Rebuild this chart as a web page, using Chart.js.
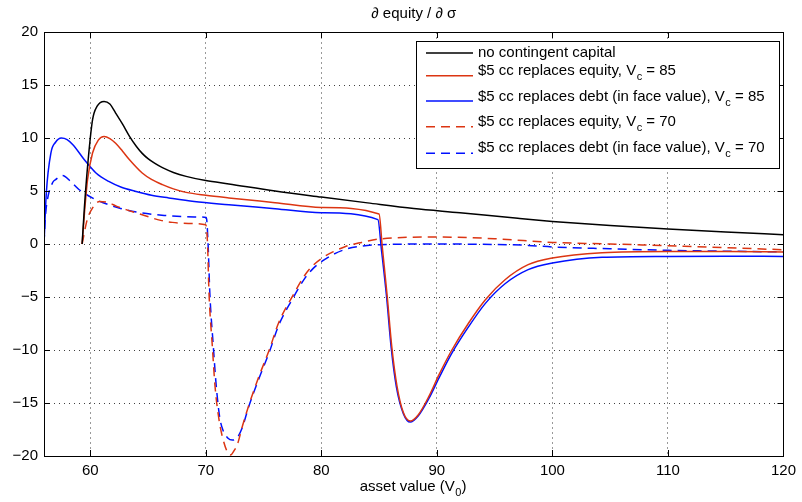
<!DOCTYPE html>
<html>
<head>
<meta charset="utf-8">
<script src="https://cdn.jsdelivr.net/npm/chart.js@4/dist/chart.umd.min.js"></script>
<style>
  html, body { margin: 0; padding: 0; background: #fff; }
  canvas { display: block; }
</style>
</head>
<body>
<canvas id="chart" width="802" height="502"></canvas>
<script>
// axis ticks
const xTicks = [60, 70, 80, 90, 100, 110, 120];
const yTicks = [-20, -15, -10, -5, 0, 5, 10, 15, 20];

// no contingent capital
const noccX = [59.3, 59.5, 59.77, 60.2, 60.6, 61.2, 61.7, 62.2, 62.8, 63.4, 64.0, 64.5, 65.0, 65.6, 66.25, 67.2, 68.3, 70, 72, 76, 80, 84, 88, 92, 97, 100, 105, 110, 115, 120];
const noccY = [0, 3.5, 7.3, 11.7, 13.0, 13.45, 13.2, 12.35, 11.3, 10.15, 9.2, 8.55, 8.05, 7.6, 7.2, 6.75, 6.38, 5.98, 5.66, 5.0, 4.43, 3.88, 3.35, 2.95, 2.42, 2.13, 1.75, 1.41, 1.13, 0.88];

// $5 cc replaces equity, Vc = 85
const eq85X = [59.3, 59.5, 59.77, 60.2, 60.7, 61.2, 61.7, 62.2, 62.8, 63.4, 64.5, 65.3, 66.25, 67.2, 68.3, 70, 72, 76, 80, 85.0, 85.27, 85.7, 86.1, 86.55, 87.1, 87.7, 88.4, 89.3, 90.2, 91.3, 92.75, 94.2, 95.9, 97.9, 100, 104.3, 110, 115, 120];
const eq85Y = [0, 2.9, 6.06, 8.58, 9.8, 10.15, 9.95, 9.5, 8.75, 7.95, 6.7, 6.1, 5.6, 5.2, 4.87, 4.6, 4.35, 3.9, 3.45, 2.83, -0.2, -4.9, -9.7, -13.4, -15.9, -16.7, -16.1, -14.4, -12.3, -10.0, -7.45, -5.25, -3.37, -1.95, -1.32, -0.82, -0.7, -0.7, -0.75];

// $5 cc replaces debt (in face value), Vc = 85
const debt85X = [56, 56.2, 56.6, 57.0, 57.5, 58.0, 58.5, 59.6, 60.5, 61.6, 62.7, 63.95, 65.3, 66.8, 69, 72, 76, 80, 84.9, 85.2, 85.65, 86.05, 86.5, 87.1, 87.7, 88.4, 89.3, 90.2, 91.3, 92.75, 94.2, 95.9, 97.9, 100, 104.3, 110, 115, 120];
const debt85Y = [0, 4.8, 8.6, 9.6, 10.0, 9.85, 9.37, 7.8, 6.7, 5.9, 5.35, 4.96, 4.6, 4.34, 4.0, 3.7, 3.33, 2.95, 2.3, -0.5, -5.0, -9.8, -13.5, -16.0, -16.8, -16.2, -14.6, -12.6, -10.3, -7.8, -5.6, -3.75, -2.42, -1.8, -1.26, -1.17, -1.15, -1.17];

// $5 cc replaces equity, Vc = 70
const eq70X = [59.3, 59.74, 60.2, 60.8, 61.6, 62.3, 63.1, 64.2, 66.1, 67.1, 68.5, 70.0, 70.15, 70.28, 70.57, 70.8, 71.15, 71.43, 71.86, 72.16, 72.45, 72.74, 73.17, 73.7, 74.6, 75.5, 76.3, 77.5, 78.6, 79.3, 80.1, 81, 82.1, 83.5, 85, 90, 95, 100, 105, 110, 115, 120];
const eq70Y = [0, 2.3, 3.4, 4.0, 3.9, 3.55, 3.24, 2.86, 2.23, 2.04, 1.94, 1.82, 0.1, -4.6, -9.66, -13.4, -16.6, -18.15, -19.6, -19.9, -19.5, -18.9, -17.2, -15.3, -12.5, -9.97, -7.45, -4.94, -2.9, -2.0, -1.3, -0.75, -0.23, 0.15, 0.47, 0.66, 0.5, 0.15, 0.0, -0.16, -0.35, -0.54];

// $5 cc replaces debt (in face value), Vc = 70
const debt70X = [56, 56.1, 56.3, 56.75, 57.0, 57.6, 58.3, 59.05, 60.5, 62.5, 64.1, 66.4, 69.0, 70.05, 70.2, 70.35, 70.65, 70.9, 71.2, 71.5, 71.9, 72.3, 72.7, 73.17, 73.7, 74.6, 75.5, 76.3, 77.5, 78.6, 79.3, 80.1, 81, 82.1, 83.5, 85, 90, 95, 97.9, 100, 105, 110, 115, 120];
const debt70Y = [0, 2.3, 4.2, 5.8, 6.07, 6.47, 5.9, 5.12, 4.18, 3.4, 3.0, 2.7, 2.55, 2.5, 0.0, -4.6, -9.6, -13.3, -16.3, -17.6, -18.3, -18.5, -18.3, -17.3, -15.4, -12.7, -10.2, -7.7, -5.2, -3.2, -2.3, -1.6, -1.0, -0.5, -0.2, -0.07, 0.0, -0.05, -0.13, -0.28, -0.45, -0.6, -0.68, -0.75];

// legend text: [text, subscript, tail]
const legendLabels = [
    ['no contingent capital', '', ''],
    ['$5 cc replaces equity, V', 'c', ' = 85'],
    ['$5 cc replaces debt (in face value), V', 'c', ' = 85'],
    ['$5 cc replaces equity, V', 'c', ' = 70'],
    ['$5 cc replaces debt (in face value), V', 'c', ' = 70'],
];

const RED = '#dc3512';
const BLUE = '#0010ff';
const FONT = '"Liberation Sans", Arial, Helvetica, sans-serif';

function toPoints(xs, ys) {
    return xs.map((x, i) => ({ x, y: ys[i] }));
}

function line(label, xs, ys, color, dashed) {
    return {
        label,
        data: toPoints(xs, ys),
        borderColor: color,
        borderWidth: 1.5,
        borderDash: dashed ? [9, 6] : [],
        pointRadius: 0,
        fill: false,
        cubicInterpolationMode: 'monotone',
    };
}

// draw text with one subscript part, returns end x
function drawRich(ctx, parts, x, y, size) {
    const [main, sub, tail] = parts;
    ctx.font = size + 'px ' + FONT;
    ctx.textBaseline = 'middle';
    ctx.textAlign = 'left';
    ctx.fillText(main, x, y);
    x += ctx.measureText(main).width;
    if (sub) {
        ctx.font = Math.round(size * 0.72) + 'px ' + FONT;
        ctx.fillText(sub, x + 0.5, y + 6);
        x += ctx.measureText(sub).width + 0.5;
        ctx.font = size + 'px ' + FONT;
    }
    if (tail) {
        ctx.fillText(tail, x, y);
        x += ctx.measureText(tail).width;
    }
    return x;
}

const frame = {
    id: 'frame',
    afterDraw(chart) {
        const { ctx, chartArea: a, scales } = chart;
        ctx.save();

        // box + inward ticks
        ctx.strokeStyle = '#000';
        ctx.lineWidth = 1;
        ctx.setLineDash([]);
        ctx.strokeRect(Math.round(a.left) + 0.5, Math.round(a.top) + 0.5, Math.round(a.right - a.left), Math.round(a.bottom - a.top));
        const tl = 6;
        ctx.beginPath();
        xTicks.forEach(v => {
            const px = Math.round(scales.x.getPixelForValue(v)) + 0.5;
            ctx.moveTo(px, a.bottom); ctx.lineTo(px, a.bottom - tl);
            ctx.moveTo(px, a.top); ctx.lineTo(px, a.top + tl);
        });
        yTicks.forEach(v => {
            const py = Math.round(scales.y.getPixelForValue(v)) + 0.5;
            ctx.moveTo(a.left, py); ctx.lineTo(a.left + tl, py);
            ctx.moveTo(a.right, py); ctx.lineTo(a.right - tl, py);
        });
        ctx.stroke();

        // title
        ctx.fillStyle = '#000';
        ctx.font = '15px ' + FONT;
        ctx.textAlign = 'center';
        ctx.textBaseline = 'alphabetic';
        ctx.fillText('\u2202 equity / \u2202 \u03c3', (a.left + a.right) / 2, 18);

        // x axis title with subscript
        const xl = ['asset value (V', '0', ')'];
        ctx.font = '15px ' + FONT;
        const w = ctx.measureText(xl[0]).width + ctx.measureText(xl[2]).width + 8;
        drawRich(ctx, xl, (a.left + a.right) / 2 - w / 2, 487, 15);

        // legend
        const lx = 416, ly = 41, lw = 363, lh = 127;
        ctx.fillStyle = '#fff';
        ctx.fillRect(lx, ly, lw, lh);
        ctx.strokeStyle = '#000';
        ctx.lineWidth = 1;
        ctx.strokeRect(lx + 0.5, ly + 0.5, lw, lh);
        const lineY = [53, 75.7, 101, 126.7, 153.3];
        const textY = [53, 70.5, 96.5, 121.5, 148.3];
        chart.data.datasets.forEach((ds, i) => {
            ctx.strokeStyle = ds.borderColor;
            ctx.lineWidth = 1.5;
            ctx.setLineDash(ds.borderDash || []);
            ctx.beginPath();
            ctx.moveTo(426, lineY[i]);
            ctx.lineTo(473, lineY[i]);
            ctx.stroke();
            ctx.setLineDash([]);
            ctx.fillStyle = '#000';
            drawRich(ctx, legendLabels[i], 478, textY[i], 15);
        });

        ctx.restore();
    }
};

new Chart(document.getElementById('chart'), {
    type: 'line',
    data: {
        datasets: [
            line('no contingent capital', noccX, noccY, '#000', false),
            line('$5 cc replaces equity, Vc = 85', eq85X, eq85Y, RED, false),
            line('$5 cc replaces debt (in face value), Vc = 85', debt85X, debt85Y, BLUE, false),
            line('$5 cc replaces equity, Vc = 70', eq70X, eq70Y, RED, true),
            line('$5 cc replaces debt (in face value), Vc = 70', debt70X, debt70Y, BLUE, true),
        ],
    },
    options: {
        responsive: false,
        animation: false,
        devicePixelRatio: 1,
        layout: { padding: { top: 32, right: 16, left: 0, bottom: 0 } },
        plugins: {
            legend: { display: false },
            title: { display: false },
            tooltip: { enabled: false },
        },
        scales: {
            x: {
                type: 'linear',
                min: 56,
                max: 120,
                afterBuildTicks: s => { s.ticks = xTicks.map(v => ({ value: v })); },
                afterFit: s => { s.height = 46; },
                grid: { color: 'rgba(0,0,0,0.4)', drawTicks: false, lineWidth: 1 },
                border: { display: false, dash: [2, 3] },
                ticks: { color: '#000', font: { family: FONT, size: 15 }, padding: 6, maxRotation: 0 },
            },
            y: {
                type: 'linear',
                min: -20,
                max: 20,
                afterBuildTicks: s => { s.ticks = yTicks.map(v => ({ value: v })); },
                afterFit: s => { s.width = 44; },
                grid: { color: 'rgba(0,0,0,0.75)', drawTicks: false, lineWidth: 1 },
                border: { display: false, dash: [1, 4] },
                ticks: {
                    color: '#000',
                    font: { family: FONT, size: 15 },
                    padding: 6,
                    callback: v => String(v).replace('-', '\u2212'),
                },
            },
        },
    },
    plugins: [frame],
});
</script>
</body>
</html>
